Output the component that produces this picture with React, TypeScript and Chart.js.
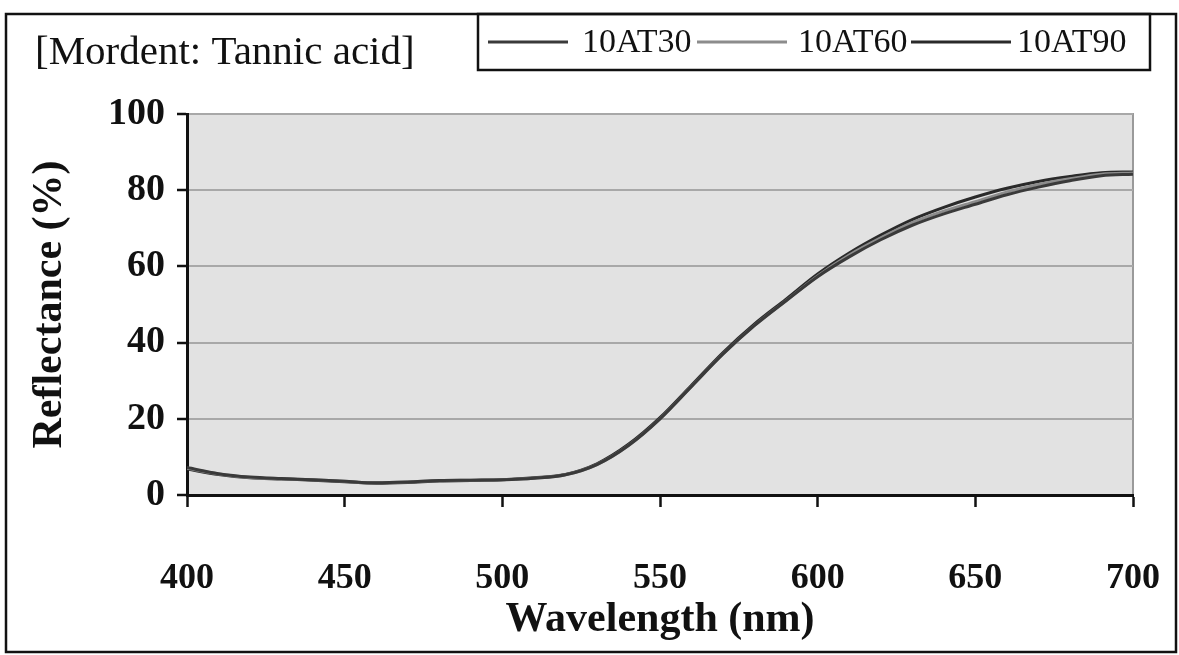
import React, { useEffect, useRef } from "react";
import { Chart, registerables } from "chart.js";

Chart.register(...registerables);

const wavelengths = [400, 410, 420, 430, 440, 450, 460, 470, 480, 490, 500, 510, 520, 530, 540, 550, 560, 570, 580, 590, 600, 610, 620, 630, 640, 650, 660, 670, 680, 690, 700];

const at30 = [7.2, 5.6, 4.7, 4.3, 4.0, 3.6, 3.2, 3.4, 3.8, 3.9, 4.0, 4.4, 5.3, 8.0, 13.0, 20.0, 28.5, 37.0, 44.5, 51.0, 57.3, 62.5, 67.0, 70.8, 73.8, 76.3, 78.8, 80.8, 82.5, 83.8, 84.2];
const at60 = [7.0, 5.5, 4.6, 4.3, 4.0, 3.6, 3.2, 3.4, 3.8, 3.9, 4.0, 4.4, 5.3, 8.0, 13.0, 20.0, 28.5, 37.0, 44.5, 51.0, 57.5, 63.0, 67.5, 71.5, 74.5, 77.0, 79.5, 81.5, 83.0, 84.2, 84.5];
const at90 = [6.8, 5.4, 4.5, 4.2, 3.9, 3.5, 3.1, 3.3, 3.7, 3.8, 4.0, 4.5, 5.4, 8.2, 13.3, 20.3, 28.8, 37.4, 44.9, 51.4, 58.0, 63.5, 68.2, 72.3, 75.5, 78.2, 80.5, 82.3, 83.6, 84.6, 84.8];

const seriesNames = ["10AT30", "10AT60", "10AT90"];
const seriesColors = ["#3a3a3a", "#8c8c8c", "#2a2a2a"];
const chartTitle = "[Mordent: Tannic acid]";
const xTitle = "Wavelength (nm)";
const yTitle = "Reflectance (%)";

const SERIF = "'Liberation Serif', 'Times New Roman', serif";

const decorPlugin = {
  id: "decor",
  beforeDraw(chart: any) {
    const { ctx, chartArea } = chart;
    const { left, top, right, bottom } = chartArea;
    ctx.save();
    ctx.fillStyle = "#ffffff";
    ctx.fillRect(0, 0, chart.width, chart.height);
    ctx.fillStyle = "#e2e2e2";
    ctx.fillRect(left, top, right - left, bottom - top);
    ctx.strokeStyle = "#9a9a9a";
    ctx.lineWidth = 2;
    ctx.beginPath();
    ctx.moveTo(left, top);
    ctx.lineTo(right, top);
    ctx.lineTo(right, bottom);
    ctx.stroke();
    ctx.restore();
  },
  afterDraw(chart: any) {
    const { ctx } = chart;
    ctx.save();
    // outer frame
    ctx.strokeStyle = "#111";
    ctx.lineWidth = 2.5;
    ctx.strokeRect(6, 14, 1170, 638);
    // title
    ctx.fillStyle = "#111";
    ctx.font = `41px ${SERIF}`;
    ctx.textBaseline = "middle";
    ctx.textAlign = "left";
    ctx.fillText(chartTitle, 35, 53);
    // legend box
    ctx.lineWidth = 2.5;
    ctx.strokeRect(478, 14, 672, 56);
    const lines = [[488, 568], [697, 787], [911, 1011]];
    const textX = [582, 798, 1017];
    ctx.font = `34px ${SERIF}`;
    for (let i = 0; i < seriesNames.length; i++) {
      ctx.strokeStyle = seriesColors[i];
      ctx.lineWidth = 3;
      ctx.beginPath();
      ctx.moveTo(lines[i][0], 42);
      ctx.lineTo(lines[i][1], 42);
      ctx.stroke();
      ctx.fillStyle = "#111";
      ctx.fillText(seriesNames[i], textX[i], 43);
    }
    ctx.restore();
  },
};

export default function App() {
  const ref = useRef<HTMLCanvasElement | null>(null);
  useEffect(() => {
    document.body.style.margin = "0";
    const canvas = ref.current!;
    const chart = new Chart(canvas, {
      type: "line",
      data: {
        datasets: seriesNames.map((name, i) => ({
          label: name,
          data: wavelengths.map((w, j) => ({ x: w, y: [at30, at60, at90][i][j] })),
          borderColor: seriesColors[i],
          borderWidth: 3,
          pointRadius: 0,
          fill: false,
          cubicInterpolationMode: "monotone" as const,
        })),
      },
      options: {
        responsive: false,
        animation: false,
        devicePixelRatio: 1,
        layout: { padding: { top: 114, right: 46, left: 5, bottom: 5 } },
        plugins: {
          legend: { display: false },
          title: { display: false },
          tooltip: { enabled: false },
        },
        scales: {
          x: {
            type: "linear",
            min: 400,
            max: 700,
            afterFit: (s: any) => { s.height = 155; s.paddingLeft = 0; s.paddingRight = 0; },
            ticks: {
              stepSize: 50,
              color: "#111",
              padding: 50,
              maxRotation: 0,
              font: { family: SERIF, size: 36, weight: "bold" },
            },
            grid: {
              drawOnChartArea: false,
              drawTicks: true,
              tickLength: 12,
              tickColor: "#111",
              tickWidth: 2.5,
            },
            border: { color: "#111", width: 3 },
            title: {
              display: true,
              text: xTitle,
              color: "#111",
              font: { family: SERIF, size: 42, weight: "bold" },
              padding: { top: 0, bottom: 5 },
            },
          },
          y: {
            type: "linear",
            min: 0,
            max: 100,
            afterFit: (s: any) => { s.width = 182; s.paddingTop = 0; s.paddingBottom = 0; },
            ticks: {
              stepSize: 20,
              color: "#111",
              padding: 12,
              font: { family: SERIF, size: 38, weight: "bold" },
            },
            grid: {
              color: "#a8a8a8",
              lineWidth: 2,
              drawTicks: true,
              tickLength: 10,
              tickColor: "#111",
              tickWidth: 2.5,
            },
            border: { color: "#111", width: 3 },
            title: {
              display: true,
              text: yTitle,
              color: "#111",
              font: { family: SERIF, size: 42, weight: "bold" },
              padding: { top: 20, bottom: 0 },
            },
          },
        },
      },
      plugins: [decorPlugin],
    });
    return () => chart.destroy();
  }, []);
  return (
    <div style={{ width: 1179, height: 655 }}>
      <canvas ref={ref} width={1179} height={655} style={{ display: "block", width: 1179, height: 655 }} />
    </div>
  );
}
